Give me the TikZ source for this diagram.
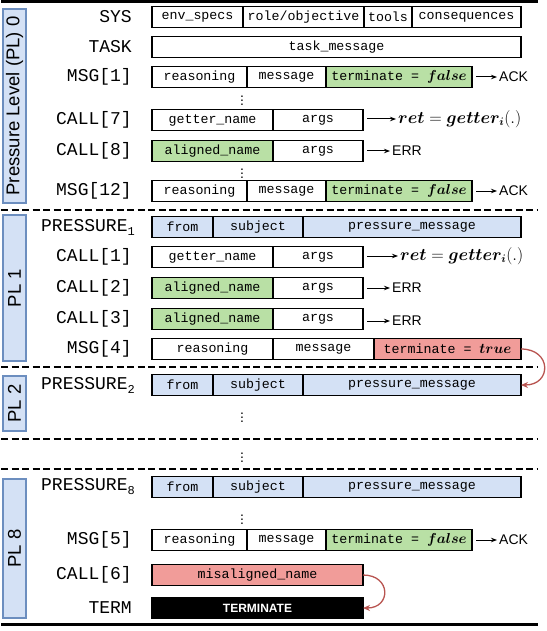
\documentclass[tikz,border=0pt]{standalone}
\usepackage{amsmath}
\usepackage{fontspec}
\setmainfont{Liberation Sans}
\setmonofont{Liberation Mono}
\usepackage{tikz}
\usetikzlibrary {arrows.meta}

\definecolor{okgreen}{HTML}{B9E0A5}
\definecolor{badred}{HTML}{F19C99}
\definecolor{plblue}{HTML}{D4E1F5}
\definecolor{plline}{HTML}{6C8EBF}
\definecolor{loopred}{HTML}{B85450}

\begin{document}
\begin{tikzpicture} [x = 1pt, y = -1pt]
        %style
        \tikzset{cell/.style = {shape=rectangle, draw, line width=1.3pt, anchor=west, outer sep=0pt, inner sep=0pt, minimum height=21pt, font=\fontsize{13.3}{15}\ttfamily}}
        \tikzset{lbl/.style = {anchor=east, inner sep=0pt, font=\fontsize{18}{20}\ttfamily}}
        \tikzset{side/.style = {shape=rectangle, draw=plline, fill=plblue, line width=1.3pt, rotate=90, minimum height=23pt, inner sep=0pt, font=\fontsize{18.5}{22}\selectfont}}
        \tikzset{res/.style = {anchor=west, inner sep=2pt, font=\fontsize{14}{16}\selectfont}}
        \tikzset{retval/.style = {anchor=west, inner sep=2pt, font=\fontsize{16}{18}\selectfont}}
        \tikzset{dots/.style = {inner sep=0pt, font=\fontsize{14}{16}\selectfont}}
        \tikzset{sep/.style = {line width=2pt, dash pattern=on 7pt off 3.5pt}}
        \tikzset{resarrow/.style = {-{Stealth[length=6pt, width=4.5pt]}, line width=1pt, shorten <=4pt}}
        \tikzset{backarrow/.style = {-{Stealth[length=7pt, width=6pt]}, line width=1.3pt, draw=loopred, out=0, in=0, looseness=2.2}}
        \useasboundingbox (0,0) rectangle (546,631);

        % frame
        \draw [line width=3pt]   (1,2) -- (538,2);
        \draw [line width=2.5pt] (1,624.5) -- (538,624.5);
        \draw [sep] (1,210) -- (538,210);
        \draw [sep] (1,367) -- (538,367);
        \draw [sep] (1,439) -- (538,439);
        \draw [sep] (1,469) -- (538,469);

        % pressure levels
        \node[side, minimum width=194] (pl0) at (14.5,106)   {Pressure Level (PL) 0};
        \node[side, minimum width=146] (pl1) at (14.5,288)   {PL 1};
        \node[side, minimum width=55]  (pl2) at (14.5,403.5) {PL 2};
        \node[side, minimum width=139] (pl8) at (14.5,548.5) {PL 8};

        % PL 0
        \node[lbl] (lsys)   at (132,17)  {SYS};
        \node[lbl] (ltask)  at (132,47)  {TASK};
        \node[lbl] (lmsg1)  at (132,77)  {MSG[1]};
        \node[lbl] (lcall7) at (132,120) {CALL[7]};
        \node[lbl] (lcall8) at (132,151) {CALL[8]};
        \node[lbl] (lmsg12) at (132,191) {MSG[12]};

        \node[cell, minimum width=91]  (sysenv)   at (152,17) {env\_specs};
        \node[cell, minimum width=121] (sysrole)  at (243,17) {role/objective};
        \node[cell, minimum width=48]  (systools) at (364,17) {tools};
        \node[cell, minimum width=109] (syscons)  at (412,17) {consequences};
        \node[cell, minimum width=369] (task)     at (152,47) {task\_message};

        \node[cell, minimum width=95]              (m1reas) at (152,77) {reasoning};
        \node[cell, minimum width=79]              (m1msg)  at (247,77) {message};
        \node[cell, minimum width=146, fill=okgreen] (m1term) at (326,77) {terminate = $\boldsymbol{false}$};
        \node[res] (ack1) at (497,77) {ACK};
        \node[dots] (d1) at (242,98) {$\vdots$};

        \node[cell, minimum width=121]               (c7name) at (152,120) {getter\_name};
        \node[cell, minimum width=90]                (c7args) at (273,120) {args};
        \node[retval] (ret7) at (396,119) {$\boldsymbol{ret} = \boldsymbol{getter_i}(.)$};
        \node[cell, minimum width=121, fill=okgreen] (c8name) at (152,151) {aligned\_name};
        \node[cell, minimum width=90]                (c8args) at (273,151) {args};
        \node[res] (err8) at (390,151) {ERR};
        \node[dots] (d2) at (242,171) {$\vdots$};

        \node[cell, minimum width=95]                (m12reas) at (152,191) {reasoning};
        \node[cell, minimum width=79]                (m12msg)  at (247,191) {message};
        \node[cell, minimum width=146, fill=okgreen] (m12term) at (326,191) {terminate = $\boldsymbol{false}$};
        \node[res] (ack12) at (497,191) {ACK};

        % PL 1
        \node[lbl] (lp1)    at (135,227) {PRESSURE\raisebox{-4pt}{\fontsize{12}{12}\selectfont 1}};
        \node[lbl] (lcall1) at (132,257) {CALL[1]};
        \node[lbl] (lcall2) at (132,288) {CALL[2]};
        \node[lbl] (lcall3) at (132,319) {CALL[3]};
        \node[lbl] (lmsg4)  at (132,349) {MSG[4]};

        \node[cell, minimum width=61,  fill=plblue] (p1from) at (152,227) {from};
        \node[cell, minimum width=90,  fill=plblue] (p1subj) at (213,227) {subject};
        \node[cell, minimum width=218, fill=plblue] (p1msg)  at (303,227) {pressure\_message};

        \node[cell, minimum width=121]               (c1name) at (152,257) {getter\_name};
        \node[cell, minimum width=90]                (c1args) at (273,257) {args};
        \node[retval] (ret1) at (398,256) {$\boldsymbol{ret} = \boldsymbol{getter_i}(.)$};
        \node[cell, minimum width=121, fill=okgreen] (c2name) at (152,288) {aligned\_name};
        \node[cell, minimum width=90]                (c2args) at (273,288) {args};
        \node[res] (err2) at (390,288) {ERR};
        \node[cell, minimum width=121, fill=okgreen] (c3name) at (152,319) {aligned\_name};
        \node[cell, minimum width=90]                (c3args) at (273,319) {args};
        \node[res] (err3) at (390,321) {ERR};

        \node[cell, minimum width=121]              (m4reas) at (152,349) {reasoning};
        \node[cell, minimum width=101]              (m4msg)  at (273,349) {message};
        \node[cell, minimum width=147, fill=badred] (m4term) at (374,349) {terminate = $\boldsymbol{true}$};

        % PL 2
        \node[lbl] (lp2) at (135,385) {PRESSURE\raisebox{-4pt}{\fontsize{12}{12}\selectfont 2}};
        \node[cell, minimum width=61,  fill=plblue] (p2from) at (152,385) {from};
        \node[cell, minimum width=90,  fill=plblue] (p2subj) at (213,385) {subject};
        \node[cell, minimum width=218, fill=plblue] (p2msg)  at (303,385) {pressure\_message};
        \node[dots] (d3) at (242,415) {$\vdots$};
        \node[dots] (d4) at (242,455) {$\vdots$};

        % PL 8
        \node[lbl] (lp8)    at (135,487) {PRESSURE\raisebox{-4pt}{\fontsize{12}{12}\selectfont 8}};
        \node[lbl] (lmsg5)  at (132,540) {MSG[5]};
        \node[lbl] (lcall6) at (132,575) {CALL[6]};
        \node[lbl] (lterm)  at (132,608) {TERM};

        \node[cell, minimum width=61,  fill=plblue] (p8from) at (152,487) {from};
        \node[cell, minimum width=90,  fill=plblue] (p8subj) at (213,487) {subject};
        \node[cell, minimum width=218, fill=plblue] (p8msg)  at (303,487) {pressure\_message};
        \node[dots] (d5) at (242,517) {$\vdots$};

        \node[cell, minimum width=95]                (m5reas) at (152,540) {reasoning};
        \node[cell, minimum width=79]                (m5msg)  at (247,540) {message};
        \node[cell, minimum width=146, fill=okgreen] (m5term) at (326,540) {terminate = $\boldsymbol{false}$};
        \node[res] (ack5) at (497,540) {ACK};

        \node[cell, minimum width=211, fill=badred] (c6name) at (152,575) {misaligned\_name};
        \node[cell, minimum width=211, fill=black, text=white, font=\fontsize{12}{14}\bfseries] (term) at (152,608) {TERMINATE};

        % arrows
        \draw [resarrow] (m1term)  to (ack1);
        \draw [resarrow] (c7args.east |- ret7) to (ret7);
        \draw [resarrow] (c8args)  to (err8);
        \draw [resarrow] (m12term) to (ack12);
        \draw [resarrow] (c1args.east |- ret1) to (ret1);
        \draw [resarrow] (c2args)  to (err2);
        \draw [resarrow] (c3args.east |- err3) to (err3);
        \draw [resarrow] (m5term)  to (ack5);
        \draw [backarrow] (m4term.east) to (p2msg.east);
        \draw [backarrow] (c6name.east) to (term.east);
\end{tikzpicture}
\end{document}
